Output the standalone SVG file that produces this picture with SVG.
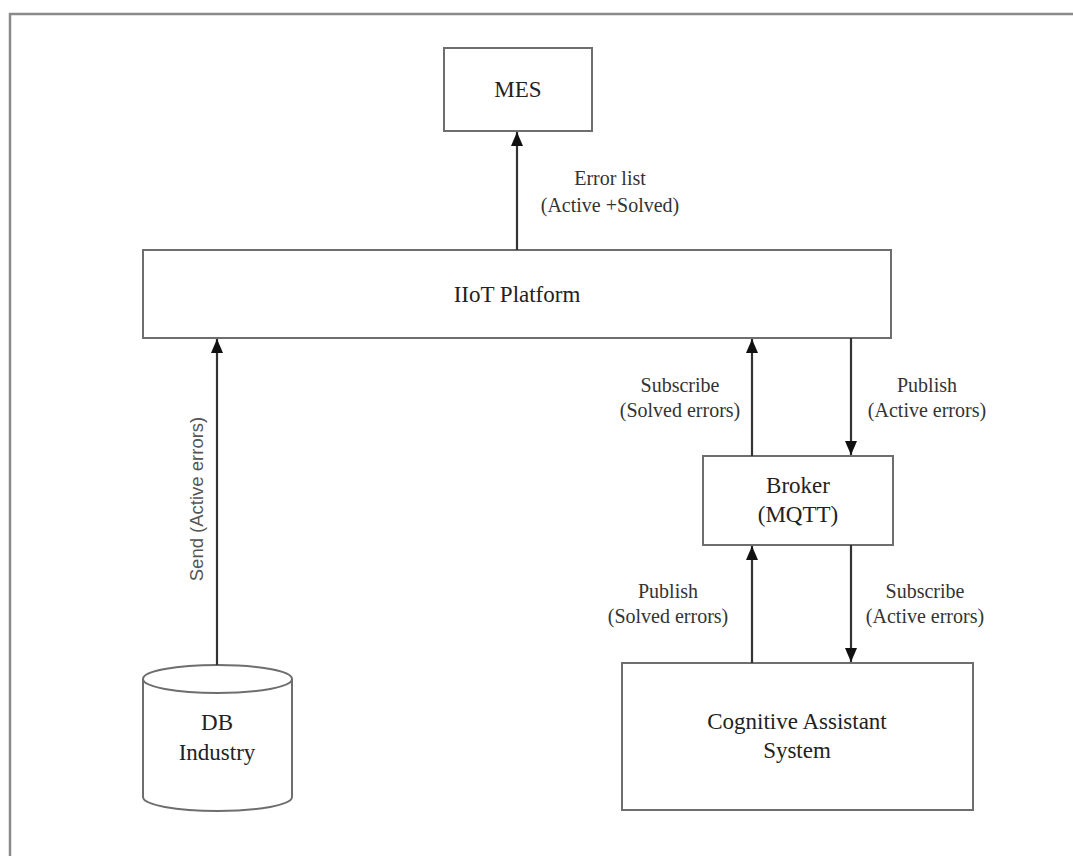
<svg xmlns="http://www.w3.org/2000/svg" width="1073" height="856" viewBox="0 0 1073 856">
<style>
.box{fill:#fff;stroke:#6e6e6e;stroke-width:2}
.frame{fill:none;stroke:#8a8a8a;stroke-width:2.5}
.edge{stroke:#333;stroke-width:2.2;fill:none}
.nt{font-family:"Liberation Serif",serif;font-size:23px;fill:#222;text-anchor:middle}
.lt{font-family:"Liberation Serif",serif;font-size:20px;fill:#333;text-anchor:middle}
.st{font-family:"Liberation Sans",sans-serif;font-size:18.5px;fill:#555;text-anchor:middle}
</style>
<defs>
<marker id="ah" viewBox="0 0 14 12" refX="14" refY="6" markerWidth="14" markerHeight="12" markerUnits="userSpaceOnUse" orient="auto">
<path d="M0,0 L14,6 L0,12 z" fill="#111"/>
</marker>
</defs>
<rect width="1073" height="856" fill="#fff"/>
<path class="frame" d="M10,860 L10,14 L1080,14"/>
<g id="mes">
<rect class="box" x="444" y="48" width="148" height="83"/>
<text class="nt" x="518" y="97">MES</text>
</g>
<g id="iiot">
<rect class="box" x="143" y="250" width="748" height="88"/>
<text class="nt" x="517" y="302">IIoT Platform</text>
</g>
<g id="broker">
<rect class="box" x="703" y="456" width="190" height="89"/>
<text class="nt" x="798" y="493">Broker</text>
<text class="nt" x="798" y="522">(MQTT)</text>
</g>
<g id="cas">
<rect class="box" x="622" y="663" width="351" height="147"/>
<text class="nt" x="797" y="729">Cognitive Assistant</text>
<text class="nt" x="797" y="758">System</text>
</g>
<g id="db">
<path class="box" d="M143,679 L143,797 A74.5,14 0 0 0 292,797 L292,679"/>
<ellipse class="box" cx="217.5" cy="679" rx="74.5" ry="14"/>
<text class="nt" x="217" y="730">DB</text>
<text class="nt" x="217" y="760">Industry</text>
</g>
<g id="connectors">
<line class="edge" x1="517" y1="250" x2="517" y2="132" marker-end="url(#ah)"/>
<line class="edge" x1="217" y1="665" x2="217" y2="339" marker-end="url(#ah)"/>
<line class="edge" x1="752" y1="456" x2="752" y2="339" marker-end="url(#ah)"/>
<line class="edge" x1="851" y1="338" x2="851" y2="455" marker-end="url(#ah)"/>
<line class="edge" x1="752" y1="663" x2="752" y2="546" marker-end="url(#ah)"/>
<line class="edge" x1="851" y1="545" x2="851" y2="662" marker-end="url(#ah)"/>
<text class="lt" x="610" y="185">Error list</text>
<text class="lt" x="610" y="212">(Active +Solved)</text>
<text class="st" transform="translate(203,499) rotate(-90)">Send (Active errors)</text>
<text class="lt" x="680" y="392">Subscribe</text>
<text class="lt" x="680" y="417">(Solved errors)</text>
<text class="lt" x="927" y="392">Publish</text>
<text class="lt" x="927" y="417">(Active errors)</text>
<text class="lt" x="668" y="598">Publish</text>
<text class="lt" x="668" y="623">(Solved errors)</text>
<text class="lt" x="925" y="598">Subscribe</text>
<text class="lt" x="925" y="623">(Active errors)</text>
</g>
</svg>
